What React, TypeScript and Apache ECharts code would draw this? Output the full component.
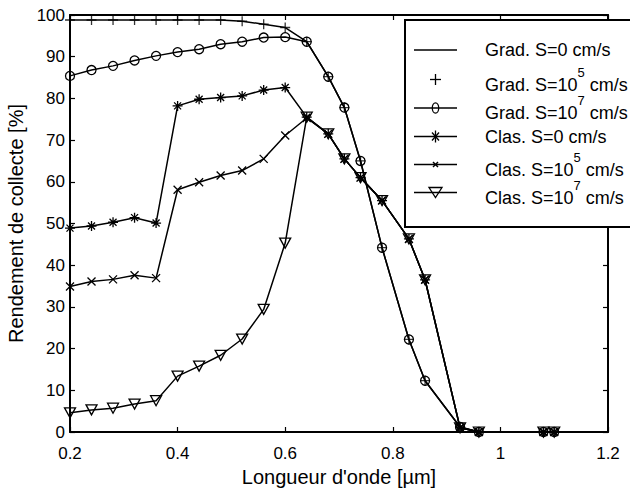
import React, { useEffect, useRef } from 'react';
import * as echarts from 'echarts';

// Wavelengths [µm]
const wavelengths = [0.2, 0.24, 0.28, 0.32, 0.36, 0.4, 0.44, 0.48, 0.52, 0.56, 0.6, 0.64, 0.68, 0.71, 0.74, 0.78, 0.83, 0.86, 0.925, 0.96, 1.08, 1.1];

// Collection efficiency [%]
const gradS0 = [98.8, 98.8, 98.8, 98.8, 98.8, 98.8, 98.8, 98.8, 98.5, 97.8, 97.0, 93.6, 85.2, 77.8, 65.0, 44.2, 22.2, 12.3, 1.2, 0, 0, 0];
const gradS1e5 = [98.8, 98.8, 98.8, 98.8, 98.8, 98.8, 98.8, 98.8, 98.5, 97.8, 97.0, 93.6, 85.2, 77.8, 65.0, 44.2, 22.2, 12.3, 1.2, 0, 0, 0];
const gradS1e7 = [85.4, 86.8, 87.8, 89.1, 90.2, 91.1, 91.8, 93.0, 93.6, 94.6, 94.7, 93.6, 85.2, 77.8, 65.0, 44.2, 22.2, 12.3, 1.2, 0, 0, 0];
const clasS0 = [48.9, 49.4, 50.3, 51.4, 50.1, 78.2, 79.8, 80.2, 80.6, 82.0, 82.6, 75.5, 71.5, 65.5, 61.0, 55.5, 46.3, 36.5, 1.0, 0, 0, 0];
const clasS1e5 = [34.9, 36.1, 36.6, 37.6, 36.9, 58.1, 59.9, 61.5, 62.7, 65.5, 71.1, 75.3, 71.5, 65.5, 61.0, 55.5, 46.3, 36.5, 1.0, 0, 0, 0];
const clasS1e7 = [4.6, 5.3, 5.7, 6.7, 7.5, 13.4, 15.8, 18.4, 22.3, 29.4, 45.3, 75.5, 71.5, 65.5, 61.0, 55.5, 46.3, 36.5, 1.0, 0, 0, 0];

// Legend labels: [prefix, superscript, suffix]
const legendLabels: [string, string, string][] = [
  ['Grad. S=0 cm/s', '', ''],
  ['Grad. S=10', '5', ' cm/s'],
  ['Grad. S=10', '7', ' cm/s'],
  ['Clas. S=0 cm/s', '', ''],
  ['Clas. S=10', '5', ' cm/s'],
  ['Clas. S=10', '7', ' cm/s'],
];

const xLabel = "Longueur d'onde [µm]";
const yLabel = 'Rendement de collecte [%]';

const FONT = "'Liberation Sans', Arial, Helvetica, sans-serif";

const pairs = (ys: number[]) => wavelengths.map((x, i) => [x, ys[i]]);

const PLUS = 'path://M5,0L5,10M0,5L10,5';
const STAR = 'path://M5,0L5,10M0,5L10,5M1.5,1.5L8.5,8.5M1.5,8.5L8.5,1.5';
const XMARK = 'path://M0,0L10,10M0,10L10,0';

export default function App() {
  const ref = useRef<HTMLDivElement>(null);
  useEffect(() => {
    const chart = echarts.init(ref.current!, null, { renderer: 'svg' });
    const lineStyle = { color: '#000', width: 1.5 };
    const markStyle = { color: 'transparent', borderColor: '#000', borderWidth: 1.3 };

    const axisCommon = {
      type: 'value' as const,
      axisLine: { show: true, onZero: false, lineStyle: { color: '#000', width: 2 } },
      axisTick: { show: true, inside: true, length: 5, lineStyle: { color: '#000', width: 1.2 } },
      splitLine: { show: false },
    };

    // Legend drawn as graphics
    const rowY = [50, 79.5, 108, 136.5, 164.5, 192.5];
    const lx1 = 414, lx2 = 457, lc = 435.5, tx = 485;
    const L = (x1: number, y1: number, x2: number, y2: number, w = 1.5) => ({
      type: 'line', z: 100, shape: { x1, y1, x2, y2 }, style: { stroke: '#000', lineWidth: w },
    });
    const g: any[] = [
      { type: 'rect', z: 100, shape: { x: 405, y: 20, width: 300, height: 207 }, style: { fill: '#fff', stroke: '#000', lineWidth: 2 } },
    ];
    // row 1: line only
    g.push(L(lx1, rowY[0], lx2, rowY[0]));
    // row 2: plus only
    g.push(L(lc - 5.5, rowY[1], lc + 5.5, rowY[1], 1.3), L(lc, rowY[1] - 5.5, lc, rowY[1] + 5.5, 1.3));
    // row 3: line + ellipse
    g.push(L(lx1, rowY[2], lx2, rowY[2]));
    g.push({ type: 'ellipse', z: 100, shape: { cx: lc, cy: rowY[2], rx: 3.2, ry: 5.2 }, style: { fill: 'transparent', stroke: '#000', lineWidth: 1.3 } });
    // row 4: line + asterisk
    g.push(L(lx1, rowY[3], lx2, rowY[3]));
    g.push(L(lc, rowY[3] - 6, lc, rowY[3] + 6, 1.3), L(lc - 3.5, rowY[3] - 4, lc + 3.5, rowY[3] + 4, 1.3), L(lc - 3.5, rowY[3] + 4, lc + 3.5, rowY[3] - 4, 1.3));
    // row 5: line + x
    g.push(L(lx1, rowY[4], lx2, rowY[4]));
    g.push(L(lc - 2.5, rowY[4] - 2.5, lc + 2.5, rowY[4] + 2.5, 1.5), L(lc - 2.5, rowY[4] + 2.5, lc + 2.5, rowY[4] - 2.5, 1.5));
    // row 6: line + down triangle
    g.push(L(lx1, rowY[5], lx2, rowY[5]));
    g.push({ type: 'polygon', z: 100, shape: { points: [[lc - 6.5, rowY[5] - 5], [lc + 6.5, rowY[5] - 5], [lc, rowY[5] + 5]] }, style: { fill: 'transparent', stroke: '#000', lineWidth: 1.3 } });

    legendLabels.forEach(([pre, sup, post], i) => {
      const text = sup ? `{a|${pre}}{s|${sup}}{a|${post}}` : `{b|${pre}}`;
      g.push({
        type: 'text', z: 101, x: tx, y: rowY[i],
        style: {
          text,
          verticalAlign: 'middle',
          align: 'left',
          rich: {
            a: { fontSize: 18, fontFamily: FONT, fill: '#000', lineHeight: 28, verticalAlign: 'bottom' },
            b: { fontSize: 18, fontFamily: FONT, fill: '#000', lineHeight: 28, verticalAlign: 'middle' },
            s: { fontSize: 13, fontFamily: FONT, fill: '#000', lineHeight: 28, verticalAlign: 'top' },
          },
        },
      });
    });

    const option: any = {
      animation: false,
      backgroundColor: '#fff',
      grid: { left: 70, right: 22, top: 15, bottom: 58, containLabel: false, outerBoundsMode: 'none' },
      xAxis: [
        {
          ...axisCommon, position: 'bottom', min: 0.2, max: 1.2, interval: 0.2,
          name: xLabel, nameLocation: 'middle', nameGap: 35,
          nameTextStyle: { fontSize: 20, fontFamily: FONT, color: '#000' },
          axisLabel: { show: true, fontSize: 17, fontFamily: FONT, color: '#000', margin: 13 },
        },
        {
          ...axisCommon, position: 'top', min: 0.2, max: 1.2, interval: 0.2,
          axisLabel: { show: false },
        },
      ],
      yAxis: [
        {
          ...axisCommon, position: 'left', min: 0, max: 100, interval: 10,
          name: yLabel, nameLocation: 'middle', nameGap: 33,
          nameTextStyle: { fontSize: 20, fontFamily: FONT, color: '#000' },
          axisLabel: { show: true, fontSize: 17, fontFamily: FONT, color: '#000', margin: 5 },
        },
        {
          ...axisCommon, position: 'right', min: 0, max: 100, interval: 10,
          axisLabel: { show: false },
        },
      ],
      series: [
        { name: legendLabels[0].join(''), type: 'line', data: pairs(gradS0), symbol: 'none', lineStyle, z: 3 },
        { name: legendLabels[1].join(''), type: 'scatter', data: pairs(gradS1e5), symbol: PLUS, symbolSize: 10, itemStyle: markStyle, z: 4 },
        { name: legendLabels[2].join(''), type: 'line', data: pairs(gradS1e7), symbol: 'circle', symbolSize: 9, lineStyle, itemStyle: markStyle, z: 3 },
        { name: legendLabels[3].join(''), type: 'line', data: pairs(clasS0), symbol: STAR, symbolSize: 10, lineStyle, itemStyle: markStyle, z: 3 },
        { name: legendLabels[4].join(''), type: 'line', data: pairs(clasS1e5), symbol: XMARK, symbolSize: 8, lineStyle, itemStyle: markStyle, z: 3 },
        { name: legendLabels[5].join(''), type: 'line', data: pairs(clasS1e7), symbol: 'triangle', symbolRotate: 180, symbolSize: [11, 10], lineStyle, itemStyle: markStyle, z: 3 },
      ],
      graphic: { elements: g },
    };
    chart.setOption(option);
    return () => chart.dispose();
  }, []);
  return <div ref={ref} style={{ position: 'absolute', left: 0, top: 0, width: 630, height: 490, background: '#fff' }} />;
}
